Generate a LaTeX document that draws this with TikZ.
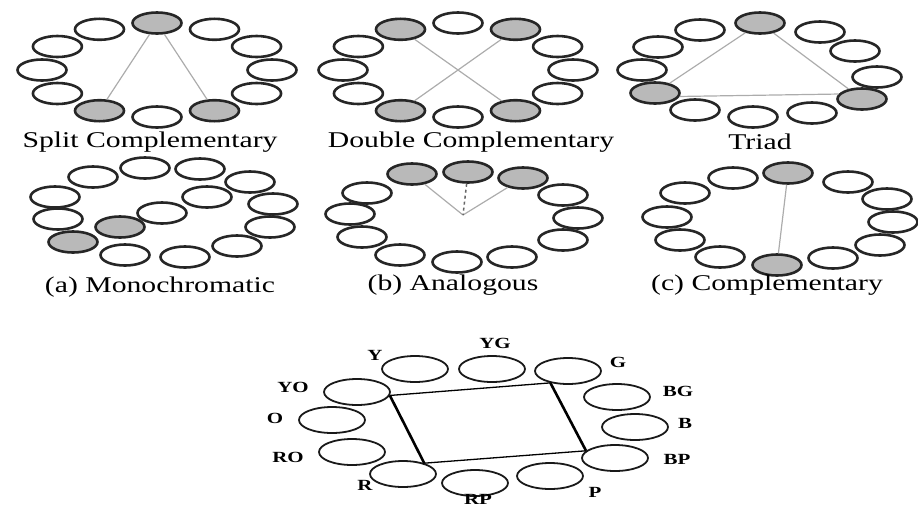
\documentclass[tikz,border=0pt]{standalone}
\usepackage{fontspec}
\setmainfont{Liberation Serif}
\usetikzlibrary{shapes.geometric}
\tikzset{
  el/.style={ellipse, draw=black!85, line width=2.6pt, minimum width=49pt, minimum height=21pt, inner sep=0pt, fill=white},
  sh/.style={el, fill=gray!55},
  conn/.style={draw=gray!65, line width=1.2pt},
  dconn/.style={draw=gray!80!black, line width=1.5pt, dashed},
  lbl/.style={font=\fontsize{22.5}{22.5}\selectfont, xscale=1.32, inner sep=0pt},
  bel/.style={ellipse, draw=black!90, line width=1.8pt, minimum width=66pt, minimum height=26pt, inner sep=0pt},
  blbl/.style={font=\bfseries\fontsize{15.5}{15.5}\selectfont, xscale=1.35, inner sep=0pt},
  thinl/.style={draw=black, line width=1.3pt},
  thickl/.style={draw=black, line width=2.6pt},
}
\begin{document}
\begin{tikzpicture}[x=1pt,y=-1pt]
\useasboundingbox (0,0) rectangle (918,507);
% ---------- Split Complementary ----------
\foreach \i/\st in {0/el,1/el,2/el,3/sh,4/el,5/el,6/el,7/el,8/sh,9/el,10/sh,11/el}{
  \node[\st] (s\i) at ({157+115*cos(\i*30)},{70-47*sin(\i*30)}) {};
}
\draw[conn] (s3) -- (s8);
\draw[conn] (s3) -- (s10);
\node[lbl] (ls) at (150,142) {Split Complementary};
% ---------- Double Complementary ----------
\foreach \i/\st in {0/el,1/el,2/sh,3/el,4/sh,5/el,6/el,7/el,8/sh,9/el,10/sh,11/el}{
  \node[\st] (d\i) at ({458+115*cos(\i*30)},{70-47*sin(\i*30)}) {};
}
\draw[conn] (d4) -- (d10);
\draw[conn] (d2) -- (d8);
\node[lbl] (ld) at (471,142) {Double Complementary};
% ---------- Triad ----------
\node[sh] (t0) at (760,23) {};
\node[el] (t1) at (700,30) {};
\node[el] (t2) at (658,47) {};
\node[el] (t3) at (642,70) {};
\node[sh] (t4) at (655,93) {};
\node[el] (t5) at (695,110) {};
\node[el] (t6) at (753,117) {};
\node[el] (t7) at (812,113) {};
\node[sh] (t8) at (862,99) {};
\node[el] (t9) at (877,77) {};
\node[el] (t10) at (855,51) {};
\node[el] (t11) at (820,32) {};
\draw[conn] (t0) -- (t4);
\draw[conn] (t0) -- (t8);
\draw[conn] (t4.-8) -- (t8.168);
\node[lbl] (lt) at (760,142) {Triad};
% ---------- Monochromatic ----------
\node[el] (m0) at (145,168) {};
\node[el] (m1) at (200,169) {};
\node[el] (m2) at (93,177) {};
\node[el] (m3) at (250,182) {};
\node[el] (m4) at (55,197) {};
\node[el] (m5) at (273,204) {};
\node[el] (m6) at (58,219) {};
\node[el] (m7) at (270,227) {};
\node[sh] (m8) at (73,242) {};
\node[el] (m9) at (237,246) {};
\node[el] (m10) at (125,255) {};
\node[el] (m11) at (185,257) {};
\node[el] (m12) at (207,197) {};
\node[el] (m13) at (162,213) {};
\node[sh] (m14) at (120,227) {};
\node[lbl] (lm) at (160,287) {(a) Monochromatic};
% ---------- Analogous ----------
\node[sh] (a0) at (412,174) {};
\node[sh] (a1) at (468,172) {};
\node[sh] (a2) at (523,178) {};
\node[el] (a3) at (367,193) {};
\node[el] (a4) at (563,195) {};
\node[el] (a5) at (350,214) {};
\node[el] (a6) at (578,218) {};
\node[el] (a7) at (362,237) {};
\node[el] (a8) at (563,240) {};
\node[el] (a9) at (400,255) {};
\node[el] (a10) at (457,262) {};
\node[el] (a11) at (512,257) {};
\coordinate (ac) at (463,215);
\draw[conn] (a0) -- (ac);
\draw[conn] (a2) -- (ac);
\draw[dconn] (a1) -- (ac);
\node[lbl] (la) at (453,285) {(b) Analogous};
% ---------- Complementary ----------
\node[sh] (c0) at (788,173) {};
\node[el] (c1) at (733,178) {};
\node[el] (c2) at (685,193) {};
\node[el] (c3) at (667,217) {};
\node[el] (c4) at (680,240) {};
\node[el] (c5) at (720,257) {};
\node[sh] (c6) at (777,265) {};
\node[el] (c7) at (833,258) {};
\node[el] (c8) at (880,245) {};
\node[el] (c9) at (893,222) {};
\node[el] (c10) at (887,199) {};
\node[el] (c11) at (848,182) {};
\draw[conn] (c0) -- (c6);
\node[lbl] (lc) at (767,285) {(c) Complementary};
% ---------- Labelled wheel ----------
\node[bel] (Y) at (415,369) {};
\node[bel] (YG) at (492,369) {};
\node[bel] (G) at (568,371) {};
\node[bel] (BG) at (617,397) {};
\node[bel] (B) at (635,427) {};
\node[bel] (BP) at (615,458) {};
\node[bel] (P) at (550,476) {};
\node[bel] (RP) at (475,483) {};
\node[bel] (R) at (403,474) {};
\node[bel] (RO) at (352,452) {};
\node[bel] (O) at (332,420) {};
\node[bel] (YO) at (357,392) {};
\draw[thinl] (YO.-6) -- (G.214);
\draw[thickl] (G.214) -- (BP.166);
\draw[thinl] (BP.166) -- (R.27);
\draw[thickl] (R.27) -- (YO.-6);
\node[blbl] (lY) at (375,355) {Y};
\node[blbl] (lYG) at (495,343) {YG};
\node[blbl] (lG) at (618,362) {G};
\node[blbl] (lBG) at (678,391) {BG};
\node[blbl] (lB) at (685,423) {B};
\node[blbl] (lBP) at (677,459) {BP};
\node[blbl] (lP) at (595,492) {P};
\node[blbl] (lRP) at (478,499) {RP};
\node[blbl] (lR) at (365,485) {R};
\node[blbl] (lRO) at (288,457) {RO};
\node[blbl] (lO) at (275,418) {O};
\node[blbl] (lYO) at (293,387) {YO};
\end{tikzpicture}
\end{document}
